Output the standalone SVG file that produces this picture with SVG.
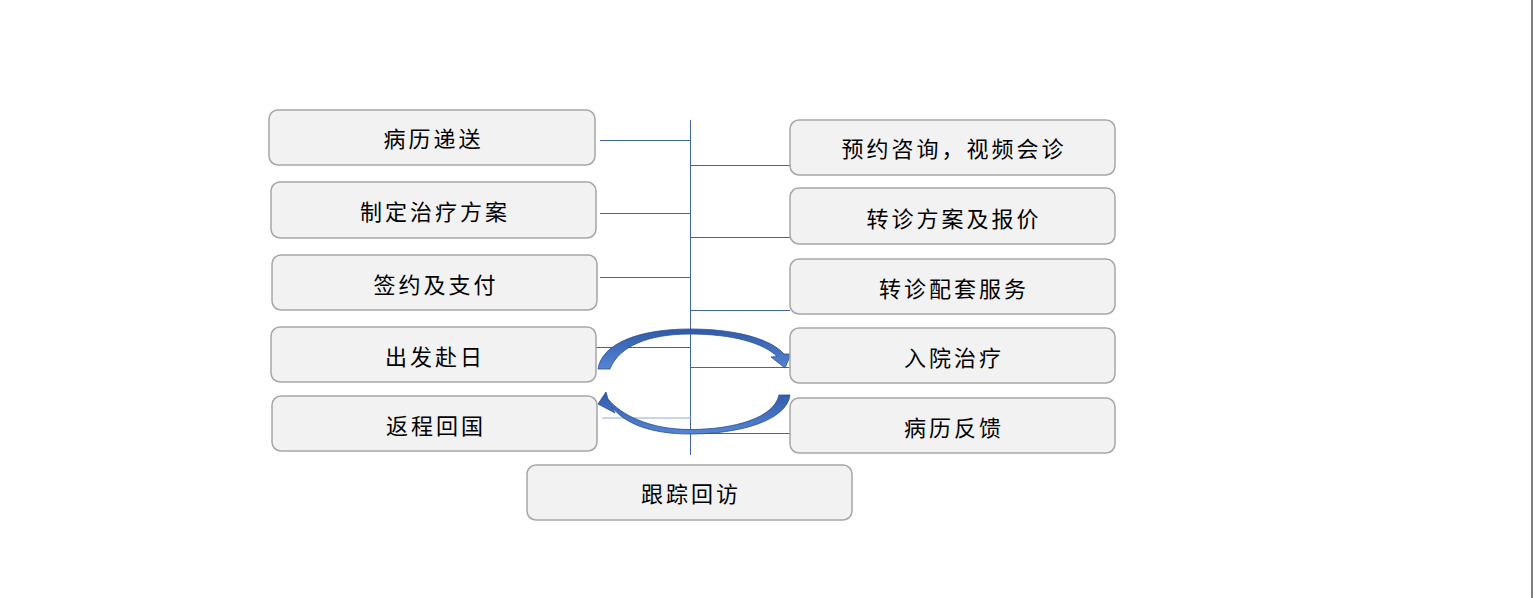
<svg xmlns="http://www.w3.org/2000/svg" width="1533" height="598" viewBox="0 0 1533 598">
<defs>
<style>
.box{fill:#f2f2f2;stroke:#a6a6a6;stroke-width:1.5}
.lbl{font-family:"Noto Sans CJK SC","Noto Sans CJK JP",sans-serif;font-size:22px;fill:#000;text-anchor:middle;letter-spacing:3px}
.ln{stroke:#3f64a8;stroke-width:1;fill:none}
.ln2{stroke:#8fa9d8;stroke-width:1.2;fill:none}
.arc{fill:url(#g);stroke:#2b4f92;stroke-width:0.8}
</style>
<linearGradient id="g" x1="0" y1="0" x2="0" y2="1">
<stop offset="0" stop-color="#2f5aa8"/>
<stop offset="1" stop-color="#5585d4"/>
</linearGradient>
</defs>
<rect width="1533" height="598" fill="#ffffff"/>
<line x1="1532" y1="0" x2="1532" y2="598" stroke="#555" stroke-width="1.5"/>

<g id="connectors">
<line class="ln" x1="690.5" y1="120" x2="690.5" y2="455"/>
<line class="ln" x1="600" y1="140.5" x2="690" y2="140.5"/>
<line class="ln" x1="600" y1="213.5" x2="690" y2="213.5"/>
<line class="ln" x1="600" y1="277.5" x2="690" y2="277.5"/>
<line class="ln" x1="596" y1="347.5" x2="690" y2="347.5"/>
<line class="ln2" x1="602" y1="418" x2="691" y2="418"/>
<line class="ln" x1="690" y1="165.5" x2="790" y2="165.5"/>
<line class="ln" x1="690" y1="237.5" x2="790" y2="237.5"/>
<line class="ln" x1="690" y1="310.5" x2="790" y2="310.5"/>
<line class="ln" x1="690" y1="367.5" x2="790" y2="367.5"/>
<line class="ln" x1="690" y1="433.5" x2="790" y2="433.5"/>
<path class="arc" d="M 598,369 C 602,343 640,329 690,329 C 736,329 771,339 784,354 L 791,354 L 785,368 L 771,357 L 777,356.5 C 764,343 732,334 690,334 C 649,334 619,346 610,369 Z"/>
<path class="arc" d="M 790,395 C 787,420 741,434 690,434 C 650,434 624,423 612,407 L 615,413 L 598,404 L 606,392 L 608,399 C 621,415 650,429.5 690,429.5 C 734,429.5 774,418 779,395 Z"/>
</g>

<g id="n1"><rect class="box" x="269" y="110" width="326" height="55" rx="9"/><text class="lbl" x="433.5" y="147">病历递送</text></g>
<g id="n2"><rect class="box" x="271" y="182" width="325" height="56" rx="9"/><text class="lbl" x="435" y="220">制定治疗方案</text></g>
<g id="n3"><rect class="box" x="272" y="255" width="325" height="55" rx="9"/><text class="lbl" x="436" y="293">签约及支付</text></g>
<g id="n4"><rect class="box" x="271" y="327" width="325" height="55" rx="9"/><text class="lbl" x="435" y="365">出发赴日</text></g>
<g id="n5"><rect class="box" x="272" y="396" width="325" height="55" rx="9"/><text class="lbl" x="436" y="434">返程回国</text></g>
<g id="n6"><rect class="box" x="790" y="120" width="325" height="55" rx="9"/><text class="lbl" x="954" y="157">预约咨询，视频会诊</text></g>
<g id="n7"><rect class="box" x="790" y="188" width="325" height="56" rx="9"/><text class="lbl" x="954" y="227">转诊方案及报价</text></g>
<g id="n8"><rect class="box" x="790" y="259" width="325" height="55" rx="9"/><text class="lbl" x="954" y="297">转诊配套服务</text></g>
<g id="n9"><rect class="box" x="790" y="328" width="325" height="55" rx="9"/><text class="lbl" x="954" y="366">入院治疗</text></g>
<g id="n10"><rect class="box" x="790" y="398" width="325" height="55" rx="9"/><text class="lbl" x="954" y="436">病历反馈</text></g>
<g id="n11"><rect class="box" x="527" y="465" width="325" height="55" rx="9"/><text class="lbl" x="691" y="502">跟踪回访</text></g>
</svg>
